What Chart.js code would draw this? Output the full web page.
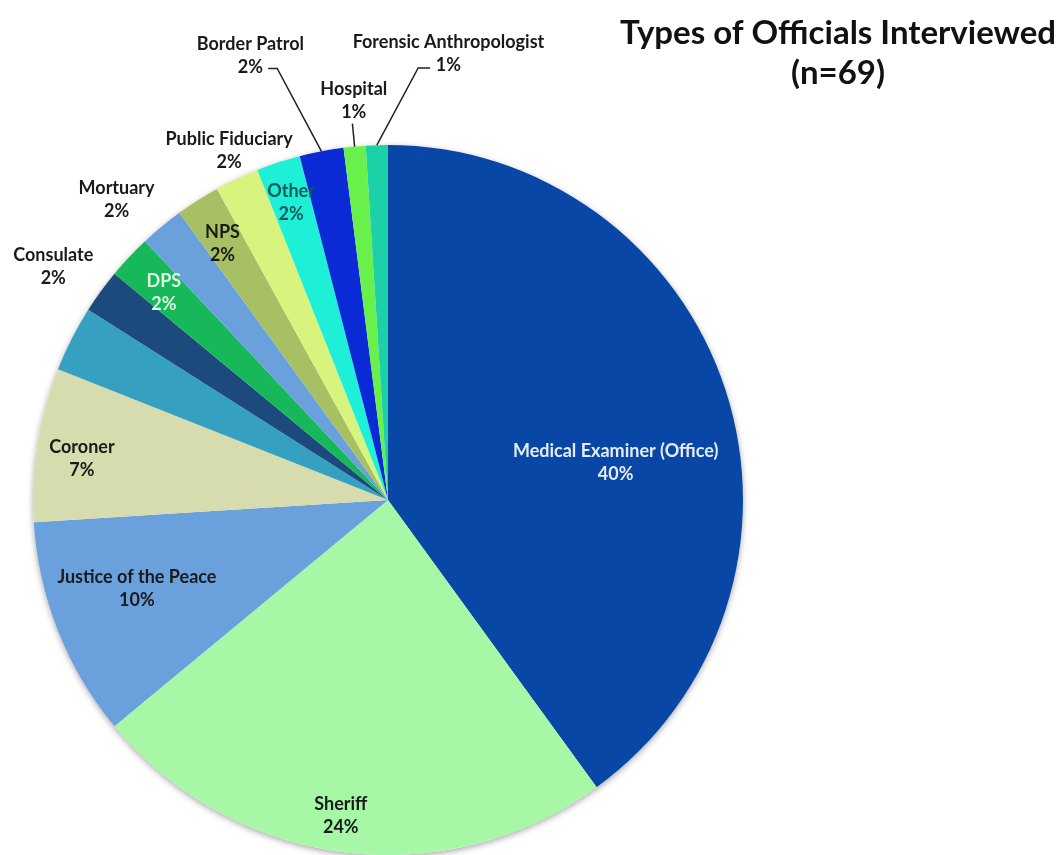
<!DOCTYPE html>
<html>
<head>
<meta charset="utf-8">
<title>Types of Officials Interviewed</title>
<script src="https://cdn.jsdelivr.net/npm/chart.js@4.4.1/dist/chart.umd.min.js"></script>
<style>
    body { margin: 0; background: #fff; }
    #contenedor { width: 1059px; height: 855px; }
</style>
</head>
<body>
<div id="contenedor">
    <canvas id="graficoOficiales" width="1059" height="855"></canvas>
</div>
<script>
// Datos (orden horario desde las 12)
const categorias = [
    "Medical Examiner (Office)", "Sheriff", "Justice of the Peace", "Coroner", "",
    "Consulate", "DPS", "Mortuary", "NPS", "Public Fiduciary", "Other",
    "Border Patrol", "Hospital", "Forensic Anthropologist"
];
const porcentajes = [40, 24, 10, 7, 3, 2, 2, 2, 2, 2, 2, 2, 1, 1];
const colores = [
    "#0847a6", "#a6f8a6", "#6aa0dc", "#d6dcae", "#35a0c0",
    "#1c4a7c", "#16b85a", "#6aa0dc", "#a8c064", "#d8f47e", "#1ef0d8",
    "#0a2ad6", "#6af04a", "#1cd0a8"
];
const titulo = ["Types of Officials Interviewed", "(n=69)"];

// Ubicación de cada etiqueta: t = fracción del ángulo del sector, f = fracción del radio
const ubicaciones = [
    { t: 0.56, f: 0.65, color: "#e4ecf8" },
    { t: 0.515, f: 0.90, color: "#1a1a1a" },
    { t: 0.56, f: 0.75, color: "#1a1a1a" },
    { t: 0.45, f: 0.87, color: "#1a1a1a" },
    null,
    { t: 0.35, f: 1.15, color: "#1a1a1a" },
    { t: 0.44, f: 0.86, color: "#d8f8e0" },
    { t: 0.15, f: 1.14, color: "#1a1a1a" },
    { t: 0.44, f: 0.86, color: "#1a1a1a" },
    { t: 0.60, f: 1.08, color: "#1a1a1a" },
    { t: 0.49, f: 0.88, color: "#0d5a5a" },
    { t: -0.39, f: 1.31, color: "#1a1a1a", codo: { t: 0.0, f: 1.255, dx: -9 } },
    { t: 0.64, f: 1.13, color: "#1a1a1a", codo: { t: 0.5, f: 1.065, dx: 0 } },
    { t: 3.14, f: 1.27, color: "#1a1a1a", codo: { t: 2.11, f: 1.22, dx: 12 } }
];

const fuente = "Lato, 'Open Sans', sans-serif";

function puntoPolar(arco, t, f) {
    const ang = arco.startAngle + t * (arco.endAngle - arco.startAngle);
    return {
        x: arco.x + Math.cos(ang) * arco.outerRadius * f,
        y: arco.y + Math.sin(ang) * arco.outerRadius * f
    };
}

const sombraPastel = {
    id: "sombraPastel",
    beforeDatasetsDraw(chart) {
        const arco = chart.getDatasetMeta(0).data[0];
        const ctx = chart.ctx;
        ctx.save();
        ctx.shadowColor = "rgba(0,0,0,0.35)";
        ctx.shadowBlur = 6;
        ctx.shadowOffsetY = 2;
        ctx.fillStyle = "#fff";
        ctx.beginPath();
        ctx.arc(arco.x, arco.y, arco.outerRadius, 0, Math.PI * 2);
        ctx.fill();
        ctx.restore();
    }
};

const etiquetasPastel = {
    id: "etiquetasPastel",
    afterDatasetsDraw(chart) {
        const ctx = chart.ctx;
        const arcos = chart.getDatasetMeta(0).data;
        ctx.save();
        ctx.font = "bold 18px " + fuente;
        ctx.textAlign = "center";
        ctx.textBaseline = "middle";
        arcos.forEach((arco, i) => {
            const u = ubicaciones[i];
            if (!u) return;
            if (u.codo) {
                const borde = puntoPolar(arco, 0.5, 1.0);
                const codo = puntoPolar(arco, u.codo.t, u.codo.f);
                ctx.strokeStyle = "#222";
                ctx.lineWidth = 1.5;
                ctx.beginPath();
                ctx.moveTo(borde.x, borde.y);
                ctx.lineTo(codo.x, codo.y);
                ctx.lineTo(codo.x + u.codo.dx, codo.y);
                ctx.stroke();
            }
            const p = puntoPolar(arco, u.t, u.f);
            ctx.fillStyle = u.color;
            ctx.fillText(categorias[i], p.x, p.y - 11.5);
            ctx.fillText(porcentajes[i] + "%", p.x, p.y + 11.5);
        });
        ctx.restore();
    },
    afterDraw(chart) {
        const ctx = chart.ctx;
        ctx.save();
        ctx.fillStyle = "#111";
        ctx.textAlign = "center";
        ctx.textBaseline = "middle";
        ctx.font = "bold 33px " + fuente;
        ctx.fillText(titulo[0], 838, 33);
        ctx.fillText(titulo[1], 838, 73);
        ctx.restore();
    }
};

new Chart(document.querySelector("#graficoOficiales"), {
    type: "pie",
    data: {
        labels: categorias,
        datasets: [{
            data: porcentajes,
            backgroundColor: colores,
            borderWidth: 0,
            hoverOffset: 0
        }]
    },
    options: {
        responsive: false,
        animation: false,
        layout: {
            padding: { left: 33, right: 316, top: 145, bottom: 0 }
        },
        plugins: {
            legend: { display: false },
            tooltip: { enabled: false }
        }
    },
    plugins: [sombraPastel, etiquetasPastel]
});
</script>
</body>
</html>
